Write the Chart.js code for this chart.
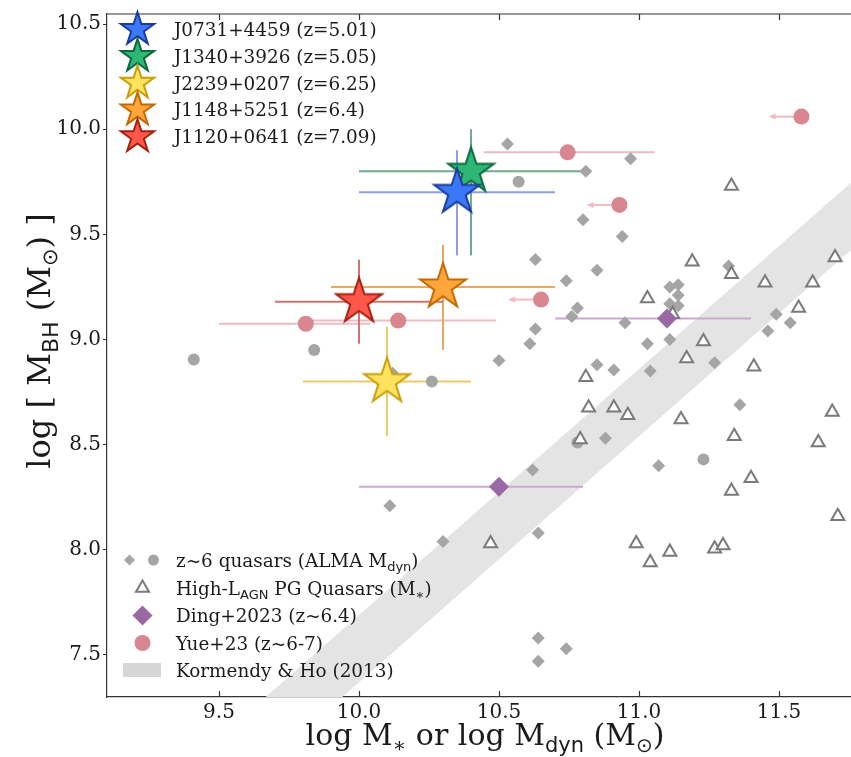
<!DOCTYPE html>
<html lang="en">
<head>
    <meta charset="UTF-8">
    <title>M_BH vs host mass</title>
    <script src="https://cdn.jsdelivr.net/npm/chart.js"></script>
    <style>
        body {
            margin: 0;
            padding: 0;
            background: #ffffff;
            overflow: hidden;
        }
        canvas { display: block; }
    </style>
</head>
<body>
<canvas id="massChart" width="851" height="757"></canvas>
<script>
// axis ticks
const xTicks = [9.5, 10.0, 10.5, 11.0, 11.5];
const yTicks = [7.5, 8.0, 8.5, 9.0, 9.5, 10.0, 10.5];

// our five quasars
const starNames = ['J0731+4459 (z=5.01)', 'J1340+3926 (z=5.05)', 'J2239+0207 (z=6.25)', 'J1148+5251 (z=6.4)', 'J1120+0641 (z=7.09)'];
const starX = [10.35, 10.40, 10.10, 10.30, 10.00];
const starY = [9.70, 9.80, 8.80, 9.25, 9.18];
const starXErr = [0.35, 0.40, 0.30, 0.40, 0.30];
const starYErrHi = [0.20, 0.20, 0.26, 0.20, 0.20];
const starYErrLo = [0.30, 0.40, 0.26, 0.30, 0.20];
const starFill = ['#3a78f5', '#2db675', '#ffe25e', '#ffa63d', '#ff584a'];
const starEdge = ['#1b3c9e', '#0c6a3b', '#c89f0a', '#c46a00', '#a5200f'];
const starBar = ['#8c9fe2', '#74a98c', '#ebca6c', '#e8a866', '#cf766c'];

// z~6 quasars with ALMA dynamical masses
const almaDiamondX = [10.53, 10.97, 10.81, 10.80, 10.94, 10.63, 10.85, 10.74, 11.32, 11.11, 11.14, 11.14, 11.11, 11.14, 10.78, 10.76, 10.95, 10.63, 10.61, 10.50, 11.03, 11.11, 10.85, 10.91, 11.04, 11.27, 11.49, 11.46, 11.54, 11.36, 10.88, 11.07, 10.62, 10.64, 10.64, 10.74, 10.64, 10.12, 10.11, 10.30];
const almaDiamondY = [9.93, 9.86, 9.80, 9.57, 9.49, 9.38, 9.33, 9.28, 9.35, 9.25, 9.26, 9.21, 9.17, 9.16, 9.15, 9.11, 9.08, 9.05, 8.98, 8.90, 8.98, 9.00, 8.88, 8.855, 8.85, 8.89, 9.12, 9.04, 9.08, 8.69, 8.53, 8.40, 8.38, 8.08, 7.58, 7.53, 7.47, 8.84, 8.21, 8.04];
const almaCircleX = [10.57, 9.41, 9.84, 10.26, 10.78, 11.23];
const almaCircleY = [9.75, 8.905, 8.95, 8.80, 8.51, 8.43];

// high-L_AGN PG quasars (stellar masses)
const pgX = [11.33, 11.19, 11.33, 11.45, 11.70, 11.62, 11.03, 11.57, 11.12, 11.23, 11.17, 11.41, 10.81, 10.82, 10.91, 10.96, 11.15, 10.79, 11.34, 11.69, 11.64, 11.40, 11.33, 11.71, 10.47, 10.99, 11.04, 11.11, 11.27, 11.30];
const pgY = [9.73, 9.37, 9.31, 9.27, 9.39, 9.27, 9.195, 9.15, 9.12, 8.99, 8.91, 8.87, 8.82, 8.675, 8.675, 8.64, 8.62, 8.525, 8.54, 8.655, 8.51, 8.34, 8.28, 8.16, 8.03, 8.03, 7.94, 7.99, 8.005, 8.02];

// Ding+2023
const dingX = [11.10, 10.50];
const dingY = [9.10, 8.30];
const dingXErrLo = [0.40, 0.50];
const dingXErrHi = [0.30, 0.30];

// Yue+23, upper limits drawn as left arrows
const yueX = [11.58, 10.745, 10.93, 10.65, 9.81, 10.14];
const yueY = [10.06, 9.89, 9.64, 9.19, 9.075, 9.09];
const yueXErrLo = [0, 0.30, 0, 0, 0.31, 0.34];
const yueXErrHi = [0, 0.31, 0, 0, 0.23, 0.35];
const yueUpperLim = [true, false, true, true, false, false];
const yueArrowLen = 0.11;

// Kormendy & Ho (2013) relation band
const khX = [9.0, 12.0];
const khLo = [6.20, 9.71];
const khHi = [6.52, 10.03];

const serif = "'DejaVu Serif', serif";
const sans = "'DejaVu Sans', sans-serif";
const grayFill = '#a5a5a5';
const pinkFill = '#d8868f';
const pinkBar = '#ecbcc2';
const purpleFill = '#9a68a5';
const purpleBar = '#cba8d0';
const legendSize = 18.4;
const legendSub = 13;

function starPath(ctx, cx, cy, R) {
    const r = R * 0.381966;
    ctx.beginPath();
    for (let i = 0; i < 10; i++) {
        const rad = i % 2 ? r : R;
        const a = -Math.PI / 2 + i * Math.PI / 5;
        const px = cx + rad * Math.cos(a), py = cy + rad * Math.sin(a);
        if (i === 0) ctx.moveTo(px, py); else ctx.lineTo(px, py);
    }
    ctx.closePath();
}

function starImage(R, fill, edge) {
    const c = document.createElement('canvas');
    const s = Math.ceil(2 * R + 6);
    c.width = s; c.height = s;
    const g = c.getContext('2d');
    starPath(g, s / 2, s / 2, R);
    g.fillStyle = fill;
    g.fill();
    g.lineWidth = 2;
    g.lineJoin = 'miter';
    g.strokeStyle = edge;
    g.stroke();
    return c;
}

function pts(xs, ys) {
    return xs.map((x, i) => ({ x: x, y: ys[i] }));
}

// text with sub-scripted pieces: [text, size, sub?, family]
function richWidth(ctx, parts) {
    let w = 0;
    parts.forEach(p => {
        ctx.font = p[1] + 'px ' + (p[3] || serif);
        w += ctx.measureText(p[0]).width;
    });
    return w;
}
function drawRich(ctx, parts, x, y, align) {
    let cx = align === 'center' ? x - richWidth(ctx, parts) / 2 : x;
    parts.forEach(p => {
        ctx.font = p[1] + 'px ' + (p[3] || serif);
        ctx.fillText(p[0], cx, y + (p[2] ? p[1] * 0.35 : 0));
        cx += ctx.measureText(p[0]).width;
    });
}

const datasets = [];
starNames.forEach((n, i) => {
    datasets.push({
        label: n,
        data: [{ x: starX[i], y: starY[i] }],
        pointStyle: starImage(24, starFill[i], starEdge[i]),
        pointRadius: 24
    });
});
datasets.push({
    label: 'Ding+2023 (z~6.4)',
    data: pts(dingX, dingY),
    pointStyle: 'rectRot', pointRadius: 10,
    backgroundColor: purpleFill, borderColor: purpleFill, borderWidth: 0
});
datasets.push({
    label: 'Yue+23 (z~6-7)',
    data: pts(yueX, yueY),
    pointStyle: 'circle', pointRadius: 8,
    backgroundColor: pinkFill, borderColor: pinkFill, borderWidth: 0
});
datasets.push({
    label: 'High-L AGN PG Quasars',
    data: pts(pgX, pgY),
    pointStyle: 'triangle', pointRadius: 7.5,
    backgroundColor: '#ffffff', borderColor: '#7a7a7a', borderWidth: 2
});
datasets.push({
    label: 'z~6 quasars diamonds',
    data: pts(almaDiamondX, almaDiamondY),
    pointStyle: 'rectRot', pointRadius: 6.5,
    backgroundColor: grayFill, borderColor: grayFill, borderWidth: 0
});
datasets.push({
    label: 'z~6 quasars circles',
    data: pts(almaCircleX, almaCircleY),
    pointStyle: 'circle', pointRadius: 6,
    backgroundColor: grayFill, borderColor: grayFill, borderWidth: 0
});
datasets.push({
    label: 'Kormendy & Ho (2013)',
    type: 'line',
    data: pts(khX, khHi),
    showLine: true, pointRadius: 0, borderWidth: 0,
    backgroundColor: '#e4e4e4', fill: '+1'
});
datasets.push({
    label: 'kh-lower',
    type: 'line',
    data: pts(khX, khLo),
    showLine: true, pointRadius: 0, borderWidth: 0, fill: false
});
const bandIndex = datasets.length - 2;

function hLine(ctx, xs, x0, x1, py) {
    ctx.beginPath();
    ctx.moveTo(xs.getPixelForValue(x0), py);
    ctx.lineTo(xs.getPixelForValue(x1), py);
    ctx.stroke();
}

function drawErrorBars(chart) {
    const ctx = chart.ctx, xs = chart.scales.x, ys = chart.scales.y, a = chart.chartArea;
    ctx.save();
    ctx.beginPath();
    ctx.rect(a.left, a.top, a.right - a.left, a.bottom - a.top);
    ctx.clip();
    ctx.lineWidth = 2;

    ctx.strokeStyle = purpleBar;
    dingX.forEach((x, i) => hLine(ctx, xs, x - dingXErrLo[i], x + dingXErrHi[i], ys.getPixelForValue(dingY[i])));

    ctx.strokeStyle = pinkBar;
    ctx.fillStyle = pinkBar;
    yueX.forEach((x, i) => {
        const py = ys.getPixelForValue(yueY[i]);
        if (yueUpperLim[i]) {
            const tip = xs.getPixelForValue(x - yueArrowLen);
            hLine(ctx, xs, x, x - yueArrowLen, py);
            ctx.beginPath();
            ctx.moveTo(tip - 2, py);
            ctx.lineTo(tip + 5, py - 3);
            ctx.lineTo(tip + 5, py + 3);
            ctx.closePath();
            ctx.fill();
        } else {
            hLine(ctx, xs, x - yueXErrLo[i], x + yueXErrHi[i], py);
        }
    });

    starX.forEach((x, i) => {
        ctx.strokeStyle = starBar[i];
        const px = xs.getPixelForValue(x), py = ys.getPixelForValue(starY[i]);
        hLine(ctx, xs, x - starXErr[i], x + starXErr[i], py);
        ctx.beginPath();
        ctx.moveTo(px, ys.getPixelForValue(starY[i] + starYErrHi[i]));
        ctx.lineTo(px, ys.getPixelForValue(starY[i] - starYErrLo[i]));
        ctx.stroke();
    });
    ctx.restore();
}

function drawLegends(chart) {
    const ctx = chart.ctx;
    ctx.save();
    ctx.fillStyle = '#1a1a1a';
    ctx.textBaseline = 'alphabetic';

    // upper legend: the five quasars
    starNames.forEach((n, i) => {
        const cy = 29.5 + i * 26.8;
        starPath(ctx, 137.5, cy, 17.5);
        ctx.fillStyle = starFill[i];
        ctx.fill();
        ctx.lineWidth = 2;
        ctx.strokeStyle = starEdge[i];
        ctx.stroke();
        ctx.fillStyle = '#1a1a1a';
        drawRich(ctx, [[n, legendSize]], 174, cy + 6.5, 'left');
    });

    // lower legend
    const ly = [560, 588, 615.5, 643, 670];
    ctx.fillStyle = grayFill;
    ctx.beginPath();
    ctx.moveTo(129.5, ly[0] - 5.5); ctx.lineTo(135, ly[0]); ctx.lineTo(129.5, ly[0] + 5.5); ctx.lineTo(124, ly[0]);
    ctx.closePath(); ctx.fill();
    ctx.beginPath(); ctx.arc(153.5, ly[0], 5.5, 0, Math.PI * 2); ctx.fill();

    ctx.strokeStyle = '#7a7a7a'; ctx.lineWidth = 2; ctx.fillStyle = '#ffffff';
    ctx.beginPath();
    ctx.moveTo(142.5, ly[1] - 7.5); ctx.lineTo(149, ly[1] + 3.75); ctx.lineTo(136, ly[1] + 3.75);
    ctx.closePath(); ctx.fill(); ctx.stroke();

    ctx.fillStyle = purpleFill;
    ctx.beginPath();
    ctx.moveTo(142.5, ly[2] - 10); ctx.lineTo(152.5, ly[2]); ctx.lineTo(142.5, ly[2] + 10); ctx.lineTo(132.5, ly[2]);
    ctx.closePath(); ctx.fill();

    ctx.fillStyle = pinkFill;
    ctx.beginPath(); ctx.arc(142.5, ly[3], 8, 0, Math.PI * 2); ctx.fill();

    ctx.fillStyle = '#d6d6d6';
    ctx.fillRect(123, ly[4] - 7, 38, 14);

    ctx.fillStyle = '#1a1a1a';
    const tx = 176, b = 6.5, L = legendSize, S = legendSub;
    drawRich(ctx, [['z~6 quasars (ALMA M', L], ['dyn', S, true, sans], [')', L]], tx, ly[0] + b, 'left');
    drawRich(ctx, [['High-L', L], ['AGN', S, true, sans], [' PG Quasars (M', L], ['\u2217', S, true], [')', L]], tx, ly[1] + b, 'left');
    drawRich(ctx, [['Ding+2023 (z~6.4)', L]], tx, ly[2] + b, 'left');
    drawRich(ctx, [['Yue+23 (z~6-7)', L]], tx, ly[3] + b, 'left');
    drawRich(ctx, [['Kormendy & Ho (2013)', L]], tx, ly[4] + b, 'left');
    ctx.restore();
}

function drawFrame(chart) {
    const ctx = chart.ctx, a = chart.chartArea, xs = chart.scales.x;
    ctx.save();
    ctx.strokeStyle = '#333333';
    ctx.lineWidth = 1.2;
    ctx.beginPath();
    ctx.moveTo(a.left, a.top); ctx.lineTo(a.right, a.top);
    ctx.stroke();
    xTicks.forEach(v => {
        const px = Math.round(xs.getPixelForValue(v)) + 0.5;
        ctx.beginPath();
        ctx.moveTo(px, a.bottom); ctx.lineTo(px, a.bottom - 6);
        ctx.moveTo(px, a.top); ctx.lineTo(px, a.top + 6);
        ctx.stroke();
    });

    // axis titles
    ctx.fillStyle = '#1a1a1a';
    ctx.textBaseline = 'alphabetic';
    drawRich(ctx, [['log M', 30], ['\u2217', 20, true], [' or log M', 30], ['dyn', 21, true, sans], [' (M', 30], ['\u2299', 20, true, sans], [')', 30]], 485, 745, 'center');

    ctx.translate(50, 341);
    ctx.rotate(-Math.PI / 2);
    drawRich(ctx, [['log [ M', 32], ['BH', 22, true, sans], [' (M', 32], ['\u2299', 21, true, sans], [') ]', 32]], 0, 0, 'center');
    ctx.restore();
}

const overlay = {
    id: 'overlay',
    afterDatasetDraw(chart, args) {
        if (args.index === bandIndex) drawErrorBars(chart);
    },
    afterDraw(chart) {
        drawFrame(chart);
        drawLegends(chart);
    }
};

Chart.defaults.font.family = serif;

new Chart(document.getElementById('massChart'), {
    type: 'scatter',
    data: { datasets: datasets },
    options: {
        responsive: false,
        animation: false,
        devicePixelRatio: 1,
        events: [],
        layout: { autoPadding: false, padding: { top: 5, right: 0, left: 0, bottom: 0 } },
        plugins: { legend: { display: false }, tooltip: { enabled: false } },
        scales: {
            x: {
                type: 'linear', min: 9.1, max: 11.757,
                afterBuildTicks: s => { s.ticks = xTicks.map(v => ({ value: v })); },
                afterFit: s => { s.height = 60; },
                grid: { display: true, drawOnChartArea: false, drawTicks: false },
                border: { color: '#333333', width: 1.2 },
                ticks: { font: { size: 20 }, color: '#1a1a1a', padding: 4, autoSkip: false, maxRotation: 0, callback: v => v.toFixed(1) }
            },
            y: {
                type: 'linear', min: 7.3, max: 10.548,
                afterBuildTicks: s => { s.ticks = yTicks.map(v => ({ value: v })); },
                afterFit: s => { s.width = 107; },
                grid: { display: true, drawOnChartArea: false, drawTicks: true, tickLength: 4, color: '#333333' },
                border: { color: '#333333', width: 1.2 },
                ticks: { font: { size: 20 }, color: '#1a1a1a', padding: 2, autoSkip: false, callback: v => v.toFixed(1) }
            }
        }
    },
    plugins: [overlay]
});
</script>
</body>
</html>
